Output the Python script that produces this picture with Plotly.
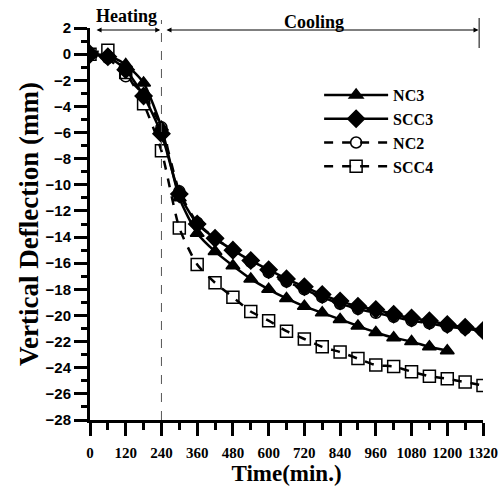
import plotly.graph_objects as go

time = [0, 60, 120, 180, 240, 300, 360, 420, 480, 540, 600, 660, 720, 780,
        840, 900, 960, 1020, 1080, 1140, 1200, 1260, 1320]

nc3 = [0, -0.1, -0.8, -2.2, -5.6, -11.0, -13.7, -15.1, -16.2, -17.2, -18.0,
       -18.7, -19.3, -19.8, -20.3, -20.8, -21.3, -21.7, -22.0, -22.4, -22.7]
scc3 = [0, -0.2, -1.2, -3.2, -6.1, -10.7, -13.0, -14.1, -15.0, -15.8, -16.5,
        -17.2, -17.8, -18.4, -18.9, -19.3, -19.55, -19.9, -20.2, -20.4, -20.7,
        -20.9, -21.15]
nc2 = [0, -0.3, -1.7, -3.1, -5.6, -10.5, -12.9, -14.1, -15.0, -15.9, -16.7,
       -17.4, -18.0, -18.6, -19.1, -19.5, -19.8, -20.1, -20.4, -20.6, -20.85,
       -21.0, -21.2]
scc4 = [0, 0.3, -1.4, -3.8, -7.4, -13.3, -16.1, -17.5, -18.6, -19.7, -20.4,
        -21.2, -21.8, -22.4, -22.8, -23.3, -23.8, -23.9, -24.3, -24.65, -24.85,
        -25.1, -25.36]

series = [
    ("NC3", nc3, "solid", "triangle-up", 12),
    ("SCC3", scc3, "solid", "diamond", 13),
    ("NC2", nc2, "dash", "circle-open", 11),
    ("SCC4", scc4, "dash", "square-open", 12),
]

serif = "Liberation Serif"
sans = "Liberation Sans"

fig = go.Figure()
for name, vals, dash, sym, size in series:
    fig.add_trace(go.Scatter(
        x=time[:len(vals)], y=vals, name=name, mode="lines+markers",
        line=dict(color="black", width=2.5, dash=dash, shape="spline", smoothing=0.6),
        marker=dict(symbol=sym, size=size, color="black",
                    line=dict(color="black", width=1.5)),
    ))

# window pixel y -> paper fraction (plot area spans y = 28..420)
def py(p):
    return (420 - p) / 392.0

fig.add_shape(type="line", x0=240, x1=240, y0=0, y1=py(20), xref="x", yref="paper",
              line=dict(color="#555", width=1, dash="dash"))
fig.add_shape(type="line", x0=1307, x1=1307, y0=py(48), y1=py(18), xref="x", yref="paper",
              line=dict(color="black", width=1))

def arrow(x0, x1):
    fig.add_annotation(x=x1, y=py(30), ax=x0, ay=0, xref="x", yref="paper",
                       axref="x", ayref="pixel",
                       text="", showarrow=True, arrowhead=2, arrowside="end+start",
                       arrowsize=1, arrowwidth=1, arrowcolor="black")

arrow(17, 236)
arrow(252, 1305)

fig.add_annotation(x=124, y=py(16), xref="x", yref="paper", text="<b>Heating</b>",
                   showarrow=False, font=dict(family=serif, size=18, color="black"),
                   yanchor="middle")
fig.add_annotation(x=752, y=py(22), xref="x", yref="paper", text="<b>Cooling</b>",
                   showarrow=False, font=dict(family=serif, size=18, color="black"),
                   yanchor="middle")

fig.update_layout(
    width=500, height=486,
    margin=dict(l=90, r=17, t=28, b=66, autoexpand=False),
    paper_bgcolor="white", plot_bgcolor="white",
    showlegend=True,
    legend=dict(x=0.583, y=py(78), xanchor="left", yanchor="top",
                font=dict(family=serif, size=16, color="black", weight="bold"),
                bgcolor="rgba(0,0,0,0)", itemwidth=64, tracegroupgap=0),
    xaxis=dict(range=[0, 1320], tickmode="array",
               tickvals=list(range(0, 1321, 120)),
               ticks="outside", ticklen=13, tickwidth=3, tickcolor="black",
               minor=dict(dtick=60, ticks="outside", ticklen=7, tickwidth=3, tickcolor="black"),
               showline=True, linewidth=3, linecolor="black", showgrid=False, zeroline=False,
               ticklabelstandoff=4,
               tickfont=dict(family=serif, size=15, color="black", weight="bold"),
               title=dict(text="Time(min.)",
                          font=dict(family=serif, size=23, color="black", weight="bold"),
                          standoff=2)),
    yaxis=dict(range=[-28, 2], tickmode="array",
               tickvals=list(range(-28, 3, 2)),
               ticks="outside", ticklen=13, tickwidth=3, tickcolor="black",
               minor=dict(dtick=1, ticks="outside", ticklen=6, tickwidth=3, tickcolor="black"),
               showline=True, linewidth=3, linecolor="black", showgrid=False, zeroline=False,
               tickfont=dict(family=sans, size=15, color="black", weight="bold"),
               title=dict(text="Vertical Deflection (mm)",
                          font=dict(family=serif, size=27, color="black", weight="bold"),
                          standoff=0)),
)

fig.write_html(
    "out.html",
    config={"displayModeBar": False},
    post_script="document.body.style.margin='0';document.body.style.overflow='hidden';",
)
